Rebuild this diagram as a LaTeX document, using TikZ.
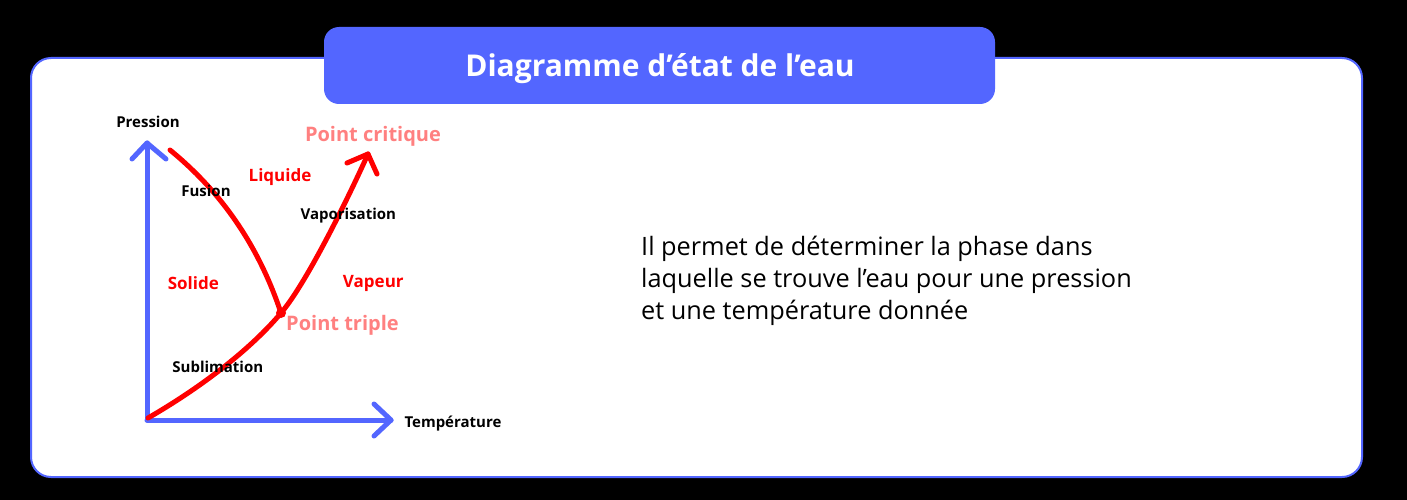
\documentclass[tikz,border=0pt]{standalone}
\usepackage{fontspec}
\setmainfont{Open Sans}
\definecolor{myblue}{HTML}{5366FF}
\definecolor{mysalmon}{HTML}{FF8080}
\definecolor{myred}{HTML}{FF0000}
\begin{document}
\begin{tikzpicture}[x=1pt,y=-1pt,
  axis/.style={draw=myblue,line width=5pt,line cap=round,line join=round},
  curve/.style={draw=myred,line width=5pt,line cap=round,line join=round},
  lblk/.style={font=\fontsize{15}{17}\selectfont\bfseries,text=black,inner sep=0pt,anchor=base},
  lred/.style={font=\fontsize{17}{19}\selectfont\bfseries,text=myred,inner sep=0pt,anchor=base},
  lsal/.style={font=\fontsize{20}{22}\selectfont\bfseries,text=mysalmon,inner sep=0pt,anchor=base},
  para/.style={font=\fontsize{25.3}{31}\selectfont,text=black,inner sep=0pt,anchor=base west}]
\useasboundingbox (0,0) rectangle (1407,500);
\fill[black] (0,0) rectangle (1407,500);
% main box
\draw[myblue,line width=2pt,fill=white,rounded corners=20pt] (31,58) rectangle (1362,477);
% title
\fill[myblue,rounded corners=15pt] (324,27) rectangle (995,104);
\node[font=\fontsize{30}{32}\selectfont\bfseries,text=white,inner sep=0pt,anchor=base] (title) at (660,77) {Diagramme d’état de l’eau};
% axes
\coordinate (O) at (147,420);
\coordinate (Ytop) at (147,143);
\coordinate (Xend) at (391,420);
\coordinate (ya1) at (132,159);
\coordinate (ya2) at (166,159);
\coordinate (xa1) at (374,404);
\coordinate (xa2) at (374,436);
\draw[axis] (O) -- (Ytop);
\draw[axis] (O) -- (Xend);
\draw[axis] (ya1) -- (Ytop) -- (ya2);
\draw[axis] (xa1) -- (Xend) -- (xa2);
% curves
\coordinate (S) at (148,418);
\coordinate (T) at (281,313);
\coordinate (C) at (368,154);
\coordinate (F) at (170,150);
\coordinate (ca1) at (347,163);
\coordinate (ca2) at (377,174);
\draw[curve] (S) .. controls (200,388) and (250,350) .. (T)
  .. controls (305,285) and (345,205) .. (C);
\draw[curve] (ca1) -- (C) -- (ca2);
\draw[curve] (F) .. controls (225,195) and (260,250) .. (T);
\fill[myred] (T) circle (5pt);
% labels
\node[lblk] (pression) at (148,127.3) {Pression};
\node[lsal] (pcrit) at (373,142) {Point critique};
\node[lred] (liquide) at (280,181.7) {Liquide};
\node[lblk] (fusion) at (206,196.7) {Fusion};
\node[lblk] (vapo) at (348.3,219) {Vaporisation};
\node[lred] (solide) at (193.3,289.3) {Solide};
\node[lred] (vapeur) at (373.3,287.3) {Vapeur};
\node[lsal] (ptriple) at (342.5,330) {Point triple};
\node[lblk] (subl) at (217.8,372.7) {Sublimation};
\node[lblk,anchor=base west] (temp) at (404.3,427.7) {Température};
% paragraph
\node[para] (p1) at (641,255) {Il permet de déterminer la phase dans};
\node[para] (p2) at (641,287) {laquelle se trouve l’eau pour une pression};
\node[para] (p3) at (641,319) {et une température donnée};
\end{tikzpicture}
\end{document}
